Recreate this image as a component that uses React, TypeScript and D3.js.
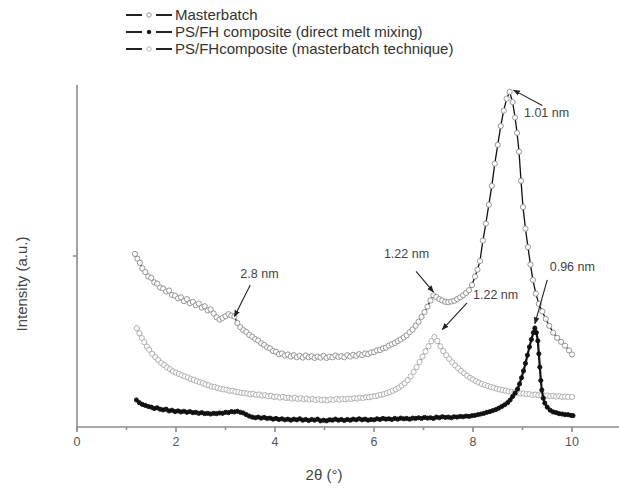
import React from 'react';
import * as d3 from 'd3';

// XRD patterns: [2theta (deg), intensity (a.u.)]
const masterbatch: [number, number][] = [
  [1.17, 50.6], [1.22, 49.2], [1.27, 48.0], [1.32, 46.4], [1.38, 45.3], [1.44, 44.0], [1.5, 43.6],
  [1.56, 42.3], [1.62, 41.9], [1.68, 40.8], [1.74, 40.5], [1.8, 39.6], [1.86, 39.9], [1.92, 38.6],
  [1.98, 38.4], [2.04, 37.6], [2.1, 37.9], [2.16, 36.8], [2.22, 37.4], [2.28, 36.2], [2.34, 36.6],
  [2.4, 35.6], [2.46, 36.1], [2.52, 34.9], [2.58, 35.3], [2.64, 34.1], [2.7, 34.4], [2.76, 33.2],
  [2.82, 32.1], [2.88, 31.4], [2.94, 31.9], [3.0, 32.4], [3.06, 33.0], [3.12, 32.6], [3.18, 32.3],
  [3.24, 30.4], [3.3, 29.2], [3.36, 28.3], [3.42, 27.8], [3.48, 26.9], [3.54, 26.4], [3.6, 25.7],
  [3.66, 25.3], [3.72, 24.5], [3.78, 24.0], [3.84, 23.3], [3.9, 23.0], [3.96, 22.2], [4.02, 22.0],
  [4.08, 21.3], [4.14, 21.5], [4.2, 20.9], [4.26, 21.2], [4.32, 20.6], [4.38, 21.0], [4.44, 20.4],
  [4.5, 20.8], [4.56, 20.3], [4.62, 20.9], [4.68, 20.4], [4.74, 20.7], [4.8, 20.2], [4.86, 20.6],
  [4.92, 20.3], [4.98, 20.8], [5.04, 20.2], [5.1, 20.6], [5.16, 20.4], [5.22, 20.9], [5.28, 20.5],
  [5.34, 20.7], [5.4, 20.4], [5.46, 21.0], [5.52, 20.6], [5.58, 21.1], [5.64, 20.8], [5.7, 21.3],
  [5.76, 21.0], [5.82, 21.5], [5.88, 21.3], [5.94, 21.8], [6.0, 21.9], [6.06, 22.4], [6.12, 22.5],
  [6.18, 23.0], [6.24, 23.2], [6.3, 23.8], [6.36, 24.2], [6.42, 24.6], [6.48, 25.1], [6.54, 25.6],
  [6.6, 26.2], [6.66, 26.8], [6.72, 27.7], [6.78, 28.5], [6.84, 29.6], [6.9, 30.8], [6.96, 32.2],
  [7.02, 33.6], [7.08, 35.2], [7.14, 37.0], [7.2, 38.5], [7.26, 38.0], [7.32, 37.4], [7.38, 37.0],
  [7.44, 36.6], [7.5, 36.5], [7.56, 36.7], [7.62, 36.9], [7.68, 37.4], [7.74, 37.9], [7.8, 38.5],
  [7.86, 39.2], [7.92, 40.0], [7.98, 41.5], [8.04, 44.0], [8.09, 46.0], [8.14, 48.5], [8.2, 54.5],
  [8.26, 59.5], [8.32, 65.0], [8.38, 70.5], [8.44, 77.0], [8.5, 82.5], [8.56, 88.0], [8.62, 92.5],
  [8.68, 96.0], [8.74, 98.0], [8.8, 95.0], [8.85, 90.5], [8.89, 86.0], [8.93, 80.5], [8.97, 72.0],
  [9.01, 64.3], [9.06, 58.0], [9.11, 52.6], [9.16, 47.5], [9.21, 43.0], [9.27, 39.0], [9.33, 36.0],
  [9.4, 33.8], [9.47, 31.6], [9.54, 29.6], [9.62, 27.6], [9.7, 26.1], [9.78, 24.9], [9.86, 23.8],
  [9.94, 22.4], [10.0, 21.2],
];

const directMelt: [number, number][] = [
  [1.2, 7.9], [1.26, 7.1], [1.32, 6.6], [1.38, 6.3], [1.44, 6.0], [1.5, 5.8], [1.56, 5.4],
  [1.62, 5.6], [1.68, 5.2], [1.74, 5.0], [1.8, 5.2], [1.86, 4.7], [1.92, 4.9], [1.98, 4.5],
  [2.04, 4.7], [2.1, 4.4], [2.16, 4.6], [2.22, 4.3], [2.28, 4.5], [2.34, 4.2], [2.4, 4.3],
  [2.46, 4.0], [2.52, 4.2], [2.58, 3.9], [2.64, 4.0], [2.7, 3.8], [2.76, 4.0], [2.82, 3.9],
  [2.88, 4.1], [2.94, 4.0], [3.0, 4.3], [3.06, 4.2], [3.12, 4.5], [3.18, 4.4], [3.24, 4.6],
  [3.3, 4.3], [3.36, 4.1], [3.42, 3.6], [3.48, 3.2], [3.54, 2.9], [3.6, 2.7], [3.66, 2.9],
  [3.72, 2.6], [3.78, 2.8], [3.84, 2.5], [3.9, 2.6], [3.96, 2.3], [4.02, 2.5], [4.08, 2.2],
  [4.14, 2.4], [4.2, 2.1], [4.26, 2.3], [4.32, 2.0], [4.38, 2.3], [4.44, 2.1], [4.5, 2.4],
  [4.56, 2.0], [4.62, 2.2], [4.68, 1.9], [4.74, 2.2], [4.8, 2.0], [4.86, 2.3], [4.92, 1.8],
  [4.98, 2.0], [5.04, 1.8], [5.1, 2.1], [5.16, 2.0], [5.22, 2.3], [5.28, 2.0], [5.34, 2.2],
  [5.4, 1.9], [5.46, 2.2], [5.52, 2.0], [5.58, 2.3], [5.64, 2.1], [5.7, 2.4], [5.76, 2.1],
  [5.82, 2.3], [5.88, 2.0], [5.94, 2.2], [6.0, 2.1], [6.06, 2.4], [6.12, 2.2], [6.18, 2.5],
  [6.24, 2.3], [6.3, 2.4], [6.36, 2.2], [6.42, 2.5], [6.48, 2.3], [6.54, 2.6], [6.6, 2.4],
  [6.66, 2.5], [6.72, 2.3], [6.78, 2.6], [6.84, 2.5], [6.9, 2.7], [6.96, 2.5], [7.02, 2.8],
  [7.08, 2.6], [7.14, 2.7], [7.2, 2.5], [7.26, 2.9], [7.32, 2.7], [7.38, 3.0], [7.44, 2.8],
  [7.5, 2.9], [7.56, 2.7], [7.62, 3.0], [7.68, 2.9], [7.74, 3.1], [7.8, 3.0], [7.86, 3.2],
  [7.92, 3.1], [7.98, 3.3], [8.04, 3.4], [8.1, 3.6], [8.16, 3.8], [8.22, 4.0], [8.28, 4.3],
  [8.34, 4.5], [8.4, 4.8], [8.46, 5.1], [8.52, 5.5], [8.58, 6.0], [8.64, 6.5], [8.7, 7.1],
  [8.75, 7.9], [8.8, 8.9], [8.85, 9.9], [8.9, 11.1], [8.94, 12.6], [8.98, 14.4], [9.02, 16.4],
  [9.06, 18.6], [9.1, 21.0], [9.14, 23.4], [9.18, 25.6], [9.22, 27.6], [9.25, 28.9], [9.28, 27.6],
  [9.31, 25.2], [9.33, 21.4], [9.35, 17.5], [9.37, 13.6], [9.39, 10.8], [9.42, 8.4], [9.45, 7.0],
  [9.5, 5.8], [9.56, 4.9], [9.62, 4.4], [9.68, 4.2], [9.74, 3.9], [9.8, 3.8], [9.86, 3.6],
  [9.92, 3.6], [9.98, 3.4], [10.02, 3.3],
];

const masterbatchTech: [number, number][] = [
  [1.21, 28.9], [1.26, 27.4], [1.31, 26.0], [1.36, 24.8], [1.41, 23.5], [1.46, 22.6], [1.52, 21.4],
  [1.58, 20.4], [1.64, 19.6], [1.7, 18.7], [1.76, 18.1], [1.82, 17.4], [1.88, 16.9], [1.94, 16.3],
  [2.0, 15.9], [2.06, 15.5], [2.12, 15.1], [2.18, 14.8], [2.24, 14.5], [2.3, 14.0], [2.36, 13.8],
  [2.42, 13.4], [2.48, 13.1], [2.54, 12.8], [2.6, 12.4], [2.66, 12.2], [2.72, 11.8], [2.78, 11.7],
  [2.84, 11.4], [2.9, 11.2], [2.96, 11.0], [3.02, 10.9], [3.08, 10.6], [3.14, 10.6], [3.2, 10.3],
  [3.26, 10.2], [3.32, 10.0], [3.38, 9.9], [3.44, 9.8], [3.5, 9.6], [3.56, 9.7], [3.62, 9.4],
  [3.68, 9.5], [3.74, 9.2], [3.8, 9.3], [3.86, 9.0], [3.92, 9.1], [3.98, 8.8], [4.04, 8.9],
  [4.1, 8.6], [4.16, 8.8], [4.22, 8.5], [4.28, 8.6], [4.34, 8.3], [4.4, 8.5], [4.46, 8.2],
  [4.52, 8.4], [4.58, 8.1], [4.64, 8.3], [4.7, 8.0], [4.76, 8.2], [4.82, 7.9], [4.88, 8.1],
  [4.94, 7.9], [5.0, 8.0], [5.06, 7.8], [5.12, 8.1], [5.18, 7.9], [5.24, 8.2], [5.3, 8.0],
  [5.36, 8.2], [5.42, 8.1], [5.48, 8.3], [5.54, 8.2], [5.6, 8.4], [5.66, 8.3], [5.72, 8.6],
  [5.78, 8.5], [5.84, 8.7], [5.9, 8.7], [5.96, 8.9], [6.02, 9.0], [6.08, 9.2], [6.14, 9.4],
  [6.2, 9.6], [6.26, 9.9], [6.32, 10.2], [6.38, 10.6], [6.44, 11.0], [6.5, 11.5], [6.56, 12.1],
  [6.62, 12.8], [6.68, 13.7], [6.74, 14.8], [6.8, 16.1], [6.86, 17.5], [6.92, 19.0], [6.98, 20.6],
  [7.04, 22.1], [7.1, 23.6], [7.16, 25.1], [7.22, 26.3], [7.28, 25.2], [7.34, 23.6], [7.4, 22.2],
  [7.46, 21.0], [7.52, 19.9], [7.58, 18.9], [7.64, 18.0], [7.7, 17.2], [7.76, 16.4], [7.82, 15.7],
  [7.88, 15.0], [7.94, 14.4], [8.0, 13.9], [8.06, 13.4], [8.12, 13.0], [8.18, 12.6], [8.24, 12.3],
  [8.3, 12.0], [8.36, 11.7], [8.42, 11.5], [8.48, 11.2], [8.54, 11.0], [8.6, 10.8], [8.66, 10.6],
  [8.72, 10.4], [8.78, 10.3], [8.84, 10.1], [8.9, 10.0], [8.96, 9.8], [9.02, 9.8], [9.08, 9.6],
  [9.14, 9.6], [9.2, 9.4], [9.26, 9.5], [9.32, 9.3], [9.38, 9.3], [9.44, 9.2], [9.5, 9.2],
  [9.56, 9.0], [9.62, 9.1], [9.68, 8.9], [9.74, 9.0], [9.8, 8.8], [9.86, 8.9], [9.92, 8.8],
  [10.0, 8.8],
];

const legendLabels = [
  'Masterbatch',
  'PS/FH composite (direct melt mixing)',
  'PS/FHcomposite (masterbatch technique)',
];

const xTicks = [0, 2, 4, 6, 8, 10];
const xMinorTicks = [1, 3, 5, 7, 9];

// peak annotations: label, peak position it points at, where the label sits
const peakNotes = [
  { label: '2.8 nm', at: [3.18, 32.3], text: [3.3, 43.5], tail: [3.5, 41.5] },
  { label: '1.22 nm', at: [7.2, 39.5], text: [6.2, 49.5], tail: [6.85, 45.5] },
  { label: '1.22 nm', at: [7.38, 28.5], text: [8.0, 37.5], tail: [7.88, 36.3] },
  { label: '0.96 nm', at: [9.25, 30.2], text: [9.55, 45.6], tail: [9.5, 43.0] },
  { label: '1.01 nm', at: [8.82, 98.5], text: [9.03, 90.5], tail: [9.4, 94.0] },
];

const W = 619;
const H = 489;

export default function App() {
  const x = d3.scaleLinear().domain([0, 10]).range([77, 572]);
  const y = d3.scaleLinear().domain([0, 100]).range([427, 85]);
  const line = d3.line<[number, number]>().x(d => x(d[0])).y(d => y(d[1]));

  const series = [
    { data: masterbatch, fill: '#fff', stroke: '#8a8a8a', r: 2.6, lw: 1.3 },
    { data: masterbatchTech, fill: '#fff', stroke: '#a8a8a8', r: 2.6, lw: 1.0 },
    { data: directMelt, fill: '#111', stroke: '#111', r: 2.1, lw: 2.2 },
  ];
  const legendMarks = [series[0], series[2], series[1]];

  return (
    <svg width={W} height={H} style={{ position: 'absolute', left: 0, top: 0 }}
      fontFamily="'Liberation Sans', Arial, sans-serif">
      <defs>
        <marker id="head" viewBox="0 0 10 10" refX="9" refY="5" markerWidth="7" markerHeight="7"
          orient="auto-start-reverse" markerUnits="userSpaceOnUse">
          <path d="M0,1 L10,5 L0,9 z" fill="#222" />
        </marker>
      </defs>
      <rect width={W} height={H} fill="#fff" />

      {/* axes */}
      <g stroke="#8c8c8c" strokeWidth={1.6} fill="none">
        <line x1={x(0)} x2={x(0)} y1={y(0) + 3} y2={y(100)} />
        <line x1={x(0)} x2={W} y1={y(0)} y2={y(0)} />
        <line x1={x(0) - 4} x2={x(0)} y1={y(50)} y2={y(50)} />
        {xTicks.map(t => <line key={t} x1={x(t)} x2={x(t)} y1={y(0)} y2={y(0) + 5} />)}
        {xMinorTicks.map(t => <line key={t} x1={x(t)} x2={x(t)} y1={y(0)} y2={y(0) + 3} />)}
      </g>
      <g fill="#555" fontSize={12.5} textAnchor="middle">
        {xTicks.map(t => <text key={t} x={x(t)} y={y(0) + 19}>{t}</text>)}
      </g>
      <text x={324} y={480} fontSize={15} fill="#444" textAnchor="middle">2θ (°)</text>
      <text transform="translate(27,284) rotate(-90)" fontSize={15} fill="#444" textAnchor="middle">
        Intensity (a.u.)
      </text>

      {/* curves */}
      {series.map((s, i) => (
        <g key={i}>
          <path d={line(s.data) ?? ''} fill="none" stroke="#111" strokeWidth={s.lw} />
          {s.data.map((d, j) => (
            <circle key={j} cx={x(d[0])} cy={y(d[1])} r={s.r} fill={s.fill} stroke={s.stroke}
              strokeWidth={0.9} />
          ))}
        </g>
      ))}

      {/* annotations */}
      {peakNotes.map((n, i) => (
        <g key={i}>
          <line x1={x(n.tail[0])} y1={y(n.tail[1])} x2={x(n.at[0])} y2={y(n.at[1])}
            stroke="#222" strokeWidth={1.1} markerEnd="url(#head)" />
          <text x={x(n.text[0])} y={y(n.text[1])} fontSize={12.5} fill="#444">{n.label}</text>
        </g>
      ))}

      {/* legend */}
      {legendLabels.map((lab, i) => {
        const ly = 15 + i * 17;
        const m = legendMarks[i];
        return (
          <g key={lab}>
            <line x1={126} x2={142} y1={ly} y2={ly} stroke="#222" strokeWidth={2} />
            <line x1={156} x2={172} y1={ly} y2={ly} stroke="#222" strokeWidth={2} />
            <circle cx={149} cy={ly} r={m.r * 0.85} fill={m.fill} stroke={m.stroke} strokeWidth={0.9} />
            <text x={175} y={ly + 5} fontSize={15} fill="#333">{lab}</text>
          </g>
        );
      })}
    </svg>
  );
}
